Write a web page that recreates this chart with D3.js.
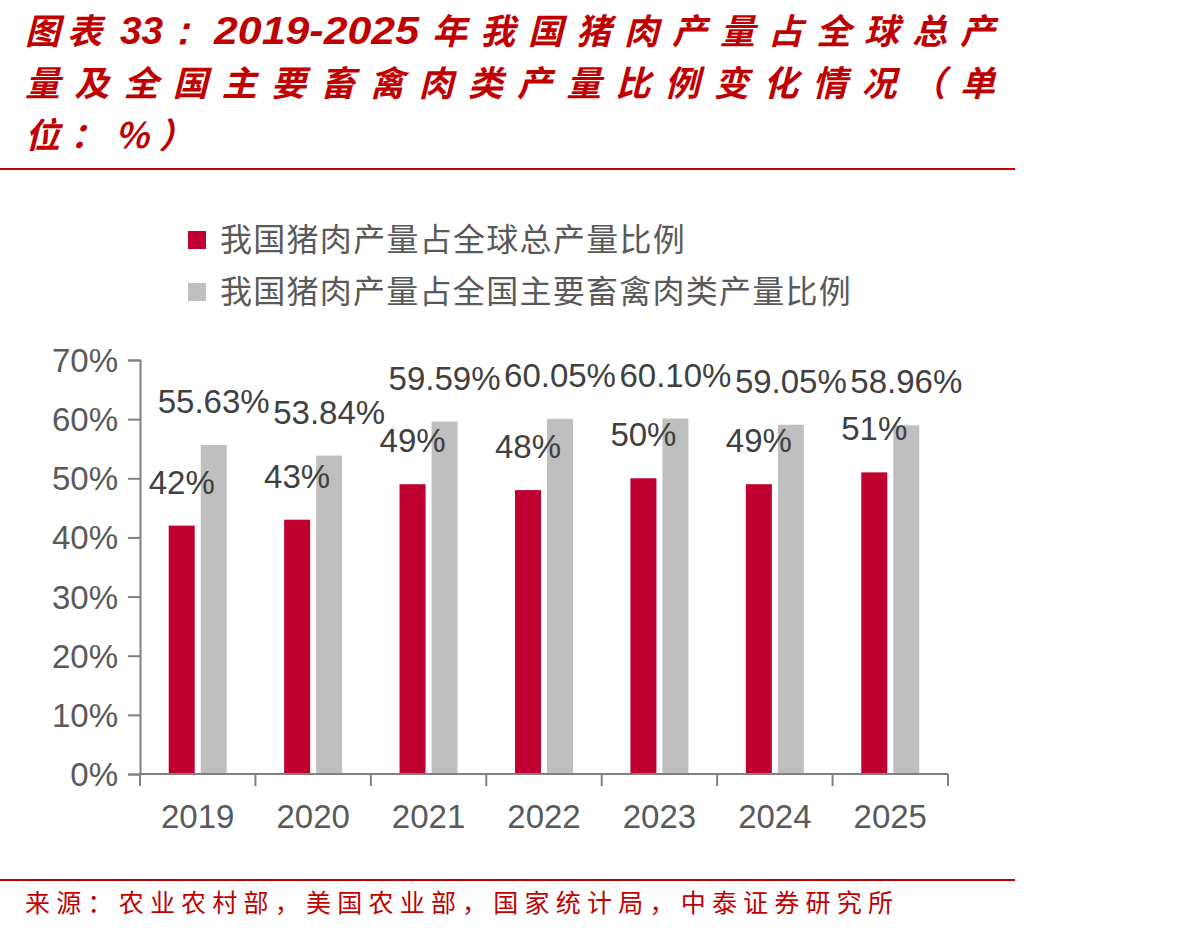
<!DOCTYPE html>
<html>
<head>
<meta charset="utf-8">
<script src="https://cdn.jsdelivr.net/npm/d3@7"></script>
<style>
  body { margin: 0; background: #fff; }
  svg { display: block; }
</style>
</head>
<body>
<div id="chart"></div>
<script>
const years = ["2019", "2020", "2021", "2022", "2023", "2024", "2025"];
const shareGlobal = [42, 43, 49, 48, 50, 49, 51];
const shareDomestic = [55.63, 53.84, 59.59, 60.05, 60.10, 59.05, 58.96];
const globalLabels = ["42%", "43%", "49%", "48%", "50%", "49%", "51%"];
const domesticLabels = ["55.63%", "53.84%", "59.59%", "60.05%", "60.10%", "59.05%", "58.96%"];
const seriesNames = ["我国猪肉产量占全球总产量比例", "我国猪肉产量占全国主要畜禽肉类产量比例"];
const yTicks = [0, 10, 20, 30, 40, 50, 60, 70];

const width = 1192, height = 933;
const red = "#C00030", gray = "#BFBFBF", titleRed = "#C00000";
const cjk = "'Noto Sans CJK SC', 'Noto Sans', sans-serif";
const latin = "'Liberation Sans', Arial, sans-serif";

const svg = d3.select("#chart").append("svg")
    .attr("width", width)
    .attr("height", height);

// title, first line in pieces so the digits stay tight
const titleFirst = [
    {t: "图表", x: 25, len: null},
    {t: "33：", x: 120, len: 82, latin: true},
    {t: "2019-2025", x: 214, len: 205, latin: true},
    {t: "年我国猪肉产量占全球总产", x: 432, len: 563}
];
const title1 = svg.append("text")
    .attr("y", 44)
    .attr("fill", titleRed)
    .style("font-family", cjk)
    .style("font-size", "35px")
    .style("font-weight", "bold")
    .style("font-style", "italic");
title1.selectAll("tspan")
    .data(titleFirst)
    .enter().append("tspan")
    .attr("x", d => d.x)
    .attr("textLength", d => d.len)
    .attr("lengthAdjust", d => d.latin ? "spacingAndGlyphs" : "spacing")
    .style("letter-spacing", d => d.len ? null : "7px")
    .style("font-family", d => d.latin ? latin : cjk)
    .style("font-size", d => d.latin ? "39px" : "35px")
    .text(d => d.t);

const titleLines = ["量及全国主要畜禽肉类产量比例变化情况（单", "位：%）"];
svg.selectAll("text.title")
    .data(titleLines)
    .enter().append("text")
    .attr("class", "title")
    .attr("x", 25)
    .attr("y", (d, i) => 96 + i * 52)
    .attr("fill", titleRed)
    .style("font-family", cjk)
    .style("font-size", "35px")
    .style("font-weight", "bold")
    .style("font-style", "italic")
    .attr("textLength", (d, i) => i < 1 ? 970 : null)
    .attr("lengthAdjust", "spacing")
    .style("letter-spacing", (d, i) => i < 1 ? null : "10px")
    .text(d => d);

svg.append("line")
    .attr("x1", 0).attr("x2", 1015)
    .attr("y1", 169).attr("y2", 169)
    .attr("stroke", titleRed).attr("stroke-width", 2);

svg.append("line")
    .attr("x1", 0).attr("x2", 1015)
    .attr("y1", 880).attr("y2", 880)
    .attr("stroke", titleRed).attr("stroke-width", 2);

svg.append("text")
    .attr("x", 25).attr("y", 912)
    .attr("fill", titleRed)
    .style("font-family", cjk)
    .style("font-size", "25px")
    .attr("textLength", 868)
    .attr("lengthAdjust", "spacing")
    .text("来源：农业农村部，美国农业部，国家统计局，中泰证券研究所");

// legend
const legend = svg.append("g").attr("transform", "translate(188, 231)");
legend.selectAll("rect")
    .data(seriesNames)
    .enter().append("rect")
    .attr("x", 0)
    .attr("y", (d, i) => i * 52)
    .attr("width", 18).attr("height", 18)
    .attr("fill", (d, i) => i === 0 ? red : gray);
legend.selectAll("text")
    .data(seriesNames)
    .enter().append("text")
    .attr("x", 32)
    .attr("y", (d, i) => i * 52 + 20)
    .attr("fill", "#595959")
    .style("font-family", cjk)
    .style("font-size", "32px")
    .attr("textLength", (d) => d.length * 33.2)
    .attr("lengthAdjust", "spacing")
    .text(d => d);

// plot
const x0 = 140, x1 = 948, yBottom = 774, yTop = 360;
const x = d3.scaleBand().domain(years).range([x0, x1]);
const y = d3.scaleLinear().domain([0, 70]).range([yBottom, yTop]);
const barW = 26, gap = 6;

const yAxis = d3.axisLeft(y).tickValues(yTicks).tickFormat(d => d + "%").tickSize(12).tickPadding(10);
const gy = svg.append("g").attr("transform", `translate(${x0},0)`).call(yAxis);
gy.select(".domain").attr("stroke", "#808080").attr("stroke-width", 2);
gy.selectAll(".tick line").attr("stroke", "#808080").attr("stroke-width", 2);
gy.selectAll(".tick text")
    .attr("fill", "#595959")
    .style("font-family", latin)
    .style("font-size", "33px")
    .attr("dy", "0.35em");

const cats = svg.append("g").selectAll("g")
    .data(years)
    .enter().append("g");

cats.append("rect")
    .attr("x", d => x(d) + x.bandwidth() / 2 - gap / 2 - barW)
    .attr("y", (d, i) => y(shareGlobal[i]))
    .attr("width", barW)
    .attr("height", (d, i) => yBottom - y(shareGlobal[i]))
    .attr("fill", red);

cats.append("rect")
    .attr("x", d => x(d) + x.bandwidth() / 2 + gap / 2)
    .attr("y", (d, i) => y(shareDomestic[i]))
    .attr("width", barW)
    .attr("height", (d, i) => yBottom - y(shareDomestic[i]))
    .attr("fill", gray);

cats.append("text")
    .attr("x", d => x(d) + x.bandwidth() / 2 - gap / 2 - barW / 2)
    .attr("y", (d, i) => y(shareGlobal[i]) - 32)
    .attr("text-anchor", "middle")
    .attr("fill", "#404040")
    .style("font-family", latin)
    .style("font-size", "33px")
    .text((d, i) => globalLabels[i]);

cats.append("text")
    .attr("x", d => x(d) + x.bandwidth() / 2 + gap / 2 + barW / 2)
    .attr("y", (d, i) => y(shareDomestic[i]) - 32)
    .attr("text-anchor", "middle")
    .attr("fill", "#404040")
    .style("font-family", latin)
    .style("font-size", "33px")
    .text((d, i) => domesticLabels[i]);

// x axis
svg.append("line")
    .attr("x1", x0).attr("x2", x1)
    .attr("y1", yBottom).attr("y2", yBottom)
    .attr("stroke", "#808080").attr("stroke-width", 2);

svg.append("g").selectAll("line")
    .data(years.concat(["end"]))
    .enter().append("line")
    .attr("x1", (d, i) => i < years.length ? x(d) : x1)
    .attr("x2", (d, i) => i < years.length ? x(d) : x1)
    .attr("y1", yBottom).attr("y2", yBottom + 12)
    .attr("stroke", "#808080").attr("stroke-width", 2);

svg.append("g").selectAll("text")
    .data(years)
    .enter().append("text")
    .attr("x", d => x(d) + x.bandwidth() / 2)
    .attr("y", 828)
    .attr("text-anchor", "middle")
    .attr("fill", "#595959")
    .style("font-family", latin)
    .style("font-size", "33px")
    .text(d => d);
</script>
</body>
</html>
